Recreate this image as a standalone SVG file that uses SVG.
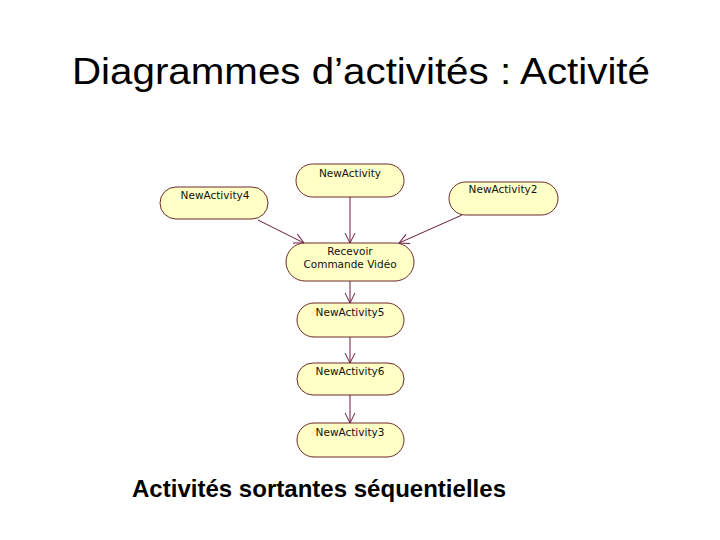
<svg xmlns="http://www.w3.org/2000/svg" width="720" height="540" viewBox="0 0 720 540">
<style>
.node{fill:#ffffc6;stroke:#6e2a2a;stroke-width:1}
.lbl{font-family:"DejaVu Sans","Liberation Sans",sans-serif;font-size:10.5px;fill:#111;text-anchor:middle}
.edge{stroke:#6b1a40;stroke-width:1;fill:none;marker-end:url(#arr)}
</style>
<defs>
<marker id="arr" viewBox="0 0 12 12" refX="11" refY="6" markerWidth="12" markerHeight="12" markerUnits="userSpaceOnUse" orient="auto">
<path d="M1,1 L11,6 L1,11" fill="none" stroke="#6b1a40" stroke-width="1"/>
</marker>
</defs>
<rect width="720" height="540" fill="#fff"/>
<text x="361" y="84" font-family="Liberation Sans, Arial, sans-serif" font-size="37" text-anchor="middle" textLength="578" lengthAdjust="spacingAndGlyphs" fill="#000">Diagrammes d’activités : Activité</text>
<g id="connectors">
<line class="edge" x1="350" y1="197" x2="350" y2="243"/>
<line class="edge" x1="258" y1="220" x2="304" y2="243"/>
<line class="edge" x1="462" y1="215" x2="399" y2="243"/>
<line class="edge" x1="350" y1="281" x2="350" y2="303"/>
<line class="edge" x1="350" y1="337" x2="350" y2="363"/>
<line class="edge" x1="350" y1="395" x2="350" y2="423"/>
</g>
<g id="n1"><rect class="node" x="296" y="164" width="108" height="33" rx="16.5"/><text class="lbl" x="350" y="177">NewActivity</text></g>
<g id="n4"><rect class="node" x="160" y="187" width="108" height="32" rx="16"/><text class="lbl" x="215" y="199">NewActivity4</text></g>
<g id="n2"><rect class="node" x="449" y="182" width="109" height="33" rx="16.5"/><text class="lbl" x="503" y="193">NewActivity2</text></g>
<g id="nrec"><rect class="node" x="286" y="243" width="128" height="38" rx="19"/><text class="lbl" x="350" y="255">Recevoir</text><text class="lbl" x="350" y="268">Commande Vidéo</text></g>
<g id="n5"><rect class="node" x="297" y="303" width="107" height="34" rx="17"/><text class="lbl" x="350" y="316">NewActivity5</text></g>
<g id="n6"><rect class="node" x="297" y="363" width="107" height="32" rx="16"/><text class="lbl" x="350" y="375">NewActivity6</text></g>
<g id="n3"><rect class="node" x="297" y="423" width="107" height="34" rx="17"/><text class="lbl" x="350" y="436">NewActivity3</text></g>
<text x="319" y="497" font-family="Liberation Sans, Arial, sans-serif" font-size="24" font-weight="bold" text-anchor="middle" textLength="374" lengthAdjust="spacingAndGlyphs" fill="#000">Activités sortantes séquentielles</text>
</svg>
